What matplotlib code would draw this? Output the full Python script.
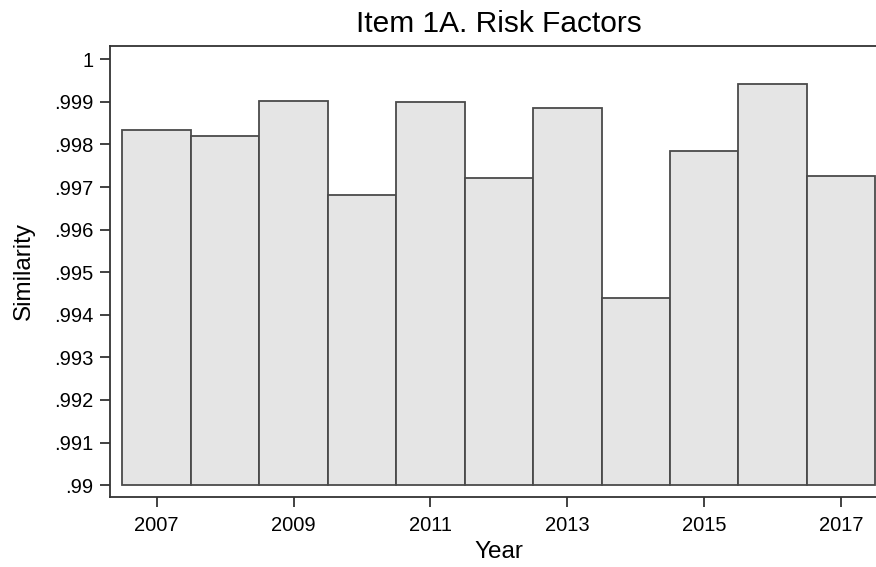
import matplotlib
matplotlib.use("Agg")
import matplotlib.pyplot as plt

years = [2007, 2008, 2009, 2010, 2011, 2012, 2013, 2014, 2015, 2016, 2017]
similarity = [.99834, .99820, .99903, .99681, .99899, .99721,
              .99886, .99440, .99785, .99941, .99725]
y_ticks = [.99, .991, .992, .993, .994, .995, .996, .997, .998, .999, 1]
y_labels = [".99", ".991", ".992", ".993", ".994", ".995", ".996",
            ".997", ".998", ".999", "1"]
x_ticks = [2007, 2009, 2011, 2013, 2015, 2017]

plt.rcParams['font.family'] = ['Liberation Sans', 'DejaVu Sans']

fig = plt.figure(figsize=(8.76, 5.67), dpi=100)
ax = fig.add_axes([110 / 876, 1 - 497 / 567, 778 / 876, (497 - 45.7) / 567])

base = 0.99
ax.bar(years, [s - base for s in similarity], bottom=base, width=1.0,
       color='#e5e5e5', edgecolor='#4a4a4a', linewidth=1.3)

ax.set_xlim(2006.318, 2017.686)
ax.set_ylim(0.98972, 1.00032)
ax.set_yticks(y_ticks)
ax.set_yticklabels(y_labels)
ax.set_xticks(x_ticks)

for side in ['left', 'bottom', 'top', 'right']:
    ax.spines[side].set_color('#333333')
    ax.spines[side].set_linewidth(1.3)
ax.tick_params(axis='both', direction='out', length=7, width=1.3,
               color='#333333', labelsize=14.5, pad=5)
ax.tick_params(axis='x', pad=7)

ax.set_title("Item 1A. Risk Factors", fontsize=21.5, pad=10)
ax.set_xlabel("Year", fontsize=17.5, labelpad=4)
ax.set_ylabel("Similarity", fontsize=17.5, labelpad=14)

fig.savefig("out.png", dpi=100)
